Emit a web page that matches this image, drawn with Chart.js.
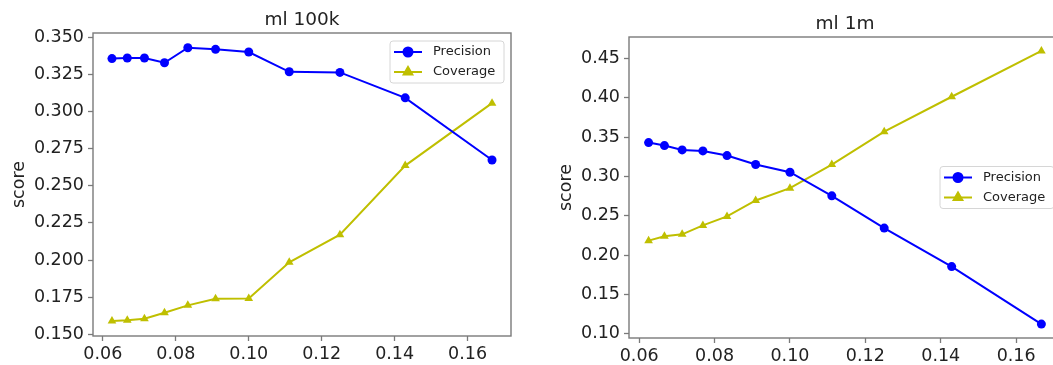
<!DOCTYPE html>
<html lang="en">
<head>
    <meta charset="UTF-8">
    <title>ml 100k / ml 1m</title>
    <script src="https://cdn.jsdelivr.net/npm/chart.js"></script>
    <style>
        html, body {
            margin: 0;
            padding: 0;
            background: #fff;
            width: 1053px;
            height: 365px;
            overflow: hidden;
            position: relative;
        }
        .box {
            position: absolute;
            top: 0;
            height: 365px;
        }
        #box100k { left: 0; width: 530px; }
        #box1m { left: 530px; width: 560px; }
    </style>
</head>
<body>
    <div class="box" id="box100k"><canvas id="chart100k"></canvas></div>
    <div class="box" id="box1m"><canvas id="chart1m"></canvas></div>
    <script>
        // x = 1/k, k = 16 ... 6
        const xValues = [0.0625, 0.0667, 0.0714, 0.0769, 0.0833, 0.0909, 0.1000, 0.1111, 0.1250, 0.1429, 0.1667];

        // ml 100k
        const precision100k = [0.3355, 0.3359, 0.3359, 0.3327, 0.3428, 0.3417, 0.3399, 0.3266, 0.3262, 0.3091, 0.2673];
        const coverage100k = [0.1590, 0.1595, 0.1605, 0.1645, 0.1695, 0.1740, 0.1742, 0.1985, 0.2170, 0.2635, 0.3055];

        // ml 1m
        const precision1m = [0.3431, 0.3393, 0.3338, 0.3325, 0.3266, 0.3152, 0.3054, 0.2754, 0.2344, 0.1854, 0.1123];
        const coverage1m = [0.2184, 0.2239, 0.2264, 0.2378, 0.2492, 0.2695, 0.2851, 0.3152, 0.3570, 0.4014, 0.4597];

        const seriesNames = ['Precision', 'Coverage'];
        const FONT = 'DejaVu Sans';
        const TEXT = '#222222';
        const SPINE = '#7a7a7a';

        function toPoints(xs, ys) {
            return xs.map((x, i) => ({ x: x, y: ys[i] }));
        }

        // frame around the plot area + title above it
        const framePlugin = {
            id: 'frame',
            afterDraw(chart, args, opts) {
                const a = chart.chartArea;
                const ctx = chart.ctx;
                ctx.save();
                ctx.strokeStyle = SPINE;
                ctx.lineWidth = 1.4;
                ctx.strokeRect(a.left, a.top, a.right - a.left, a.bottom - a.top);
                ctx.fillStyle = TEXT;
                ctx.font = '18.5px "' + FONT + '"';
                ctx.textAlign = 'center';
                ctx.textBaseline = 'middle';
                ctx.fillText(opts.text, (a.left + a.right) / 2, a.top - opts.gap);
                ctx.restore();
            }
        };

        // matplotlib-like legend box inside the plot
        const boxLegendPlugin = {
            id: 'boxLegend',
            afterDraw(chart, args, opts) {
                const a = chart.chartArea;
                const ctx = chart.ctx;
                const w = 114, h = 42, r = 3;
                const x = a.right - 7 - w;
                const y = opts.where === 'center right' ? (a.top + a.bottom) / 2 - h / 2 : a.top + 8;
                ctx.save();
                ctx.fillStyle = 'rgba(255,255,255,0.8)';
                ctx.strokeStyle = '#d6d6d6';
                ctx.lineWidth = 1;
                ctx.beginPath();
                ctx.roundRect(x, y, w, h, r);
                ctx.fill();
                ctx.stroke();
                chart.data.datasets.forEach((ds, i) => {
                    const cy = y + 11 + i * 20;
                    ctx.strokeStyle = ds.borderColor;
                    ctx.lineWidth = 2;
                    ctx.beginPath();
                    ctx.moveTo(x + 4, cy);
                    ctx.lineTo(x + 32, cy);
                    ctx.stroke();
                    Chart.helpers.drawPoint(ctx, {
                        pointStyle: ds.pointStyle,
                        radius: ds.pointRadius,
                        borderWidth: 1
                    }, x + 18, cy);
                    ctx.fillStyle = ds.backgroundColor;
                    ctx.strokeStyle = ds.borderColor;
                    ctx.fill();
                    ctx.fillStyle = TEXT;
                    ctx.font = '13px "' + FONT + '"';
                    ctx.textAlign = 'left';
                    ctx.textBaseline = 'middle';
                    ctx.fillText(ds.label, x + 43, cy);
                });
                ctx.restore();
            }
        };

        function makeChart(id, cfg) {
            const ctx = document.getElementById(id);
            return new Chart(ctx, {
                type: 'line',
                data: {
                    datasets: [{
                        label: seriesNames[0],
                        data: toPoints(xValues, cfg.precision),
                        borderColor: '#0000ff',
                        backgroundColor: '#0000ff',
                        borderWidth: 2,
                        pointStyle: 'circle',
                        pointRadius: 4.5,
                        pointBorderWidth: 0,
                        tension: 0
                    }, {
                        label: seriesNames[1],
                        data: toPoints(xValues, cfg.coverage),
                        borderColor: '#bfbf00',
                        backgroundColor: '#bfbf00',
                        borderWidth: 2,
                        pointStyle: 'triangle',
                        pointRadius: 5,
                        pointBorderWidth: 0,
                        tension: 0
                    }]
                },
                options: {
                    responsive: true,
                    maintainAspectRatio: false,
                    animation: false,
                    events: [],
                    layout: {
                        padding: { top: cfg.padTop, right: cfg.padRight, left: 0, bottom: 0 }
                    },
                    plugins: {
                        legend: { display: false },
                        tooltip: { enabled: false },
                        title: { display: false },
                        frame: { text: cfg.title, gap: cfg.titleGap },
                        boxLegend: { where: cfg.legendAt }
                    },
                    scales: {
                        x: {
                            type: 'linear',
                            min: 0.0573,
                            max: 0.1719,
                            afterFit(scale) { scale.height = cfg.xHeight; },
                            border: { display: false },
                            grid: {
                                drawOnChartArea: false,
                                drawTicks: true,
                                tickLength: 5,
                                tickColor: SPINE,
                                tickWidth: 1.3
                            },
                            ticks: {
                                stepSize: 0.02,
                                includeBounds: false,
                                maxRotation: 0,
                                padding: 3,
                                color: TEXT,
                                font: { family: FONT, size: 17.5 },
                                callback: v => v.toFixed(2)
                            }
                        },
                        y: {
                            type: 'linear',
                            min: cfg.yMin,
                            max: cfg.yMax,
                            afterFit(scale) { scale.width = cfg.yWidth; },
                            border: { display: false },
                            grid: {
                                drawOnChartArea: false,
                                drawTicks: true,
                                tickLength: 5,
                                tickColor: SPINE,
                                tickWidth: 1.3
                            },
                            title: {
                                display: true,
                                text: 'score',
                                color: TEXT,
                                font: { family: FONT, size: 17.5 },
                                padding: { top: cfg.labelPad, bottom: 0 }
                            },
                            ticks: {
                                stepSize: cfg.yStep,
                                includeBounds: false,
                                padding: 4,
                                color: TEXT,
                                font: { family: FONT, size: 17.5 },
                                callback: v => v.toFixed(cfg.yDigits)
                            }
                        }
                    }
                },
                plugins: [framePlugin, boxLegendPlugin]
            });
        }

        makeChart('chart100k', {
            title: 'ml 100k',
            precision: precision100k,
            coverage: coverage100k,
            yMin: 0.1489, yMax: 0.3527, yStep: 0.025, yDigits: 3,
            padTop: 33, padRight: 19, yWidth: 93, xHeight: 29,
            titleGap: 12.5, labelPad: 9,
            legendAt: 'upper right'
        });

        makeChart('chart1m', {
            title: 'ml 1m',
            precision: precision1m,
            coverage: coverage1m,
            yMin: 0.0946, yMax: 0.4774, yStep: 0.05, yDigits: 2,
            padTop: 37, padRight: 29, yWidth: 99, xHeight: 27,
            titleGap: 13, labelPad: 25.5,
            legendAt: 'center right'
        });
    </script>
</body>
</html>
